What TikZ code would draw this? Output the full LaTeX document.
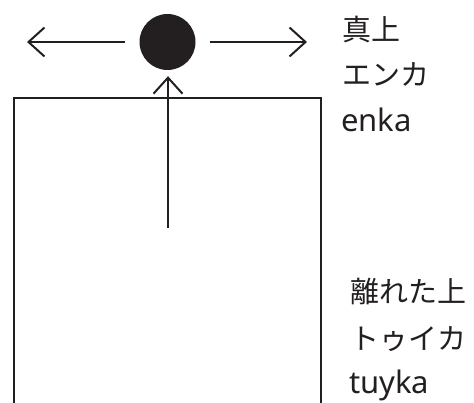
\documentclass[tikz,border=0pt]{standalone}
\usepackage{fontspec}
\setmainfont{Noto Sans}
\newfontfamily\cjk{Noto Sans CJK JP}
\usetikzlibrary{arrows.meta}
\definecolor{ink}{HTML}{231F20}
\tikzset{
  line/.style={draw=ink, line width=2pt},
  arr/.style={line, -{Straight Barb[length=16pt,width=29pt,line width=2pt]}},
  lbl/.style={anchor=base west, inner sep=0pt, text=ink, font=\fontsize{29}{29}\selectfont},
  lat/.style={lbl, font=\fontsize{31}{31}\selectfont},
}
\begin{document}
\begin{tikzpicture}[x=1pt,y=-1pt]
\useasboundingbox (0,0) rectangle (474,403);
% frame (open at the bottom)
\coordinate (fbl) at (14,403);
\coordinate (ftl) at (14,98);
\coordinate (ftr) at (321,98);
\coordinate (fbr) at (321,403);
\draw[line] (fbl) -- (ftl) -- (ftr) -- (fbr);
% dot
\node[circle, fill=ink, inner sep=0pt, minimum size=56pt] (dot) at (167.5,42) {};
\coordinate (lt) at (27,42);
\coordinate (rt) at (307,42);
\coordinate (vb) at (168,228);
\draw[arr, shorten <=14pt] (dot.west) -- (lt);
\draw[arr, shorten <=14pt] (dot.east) -- (rt);
\draw[arr, shorten >=6pt] (vb) -- (dot.south -| vb);
% labels
\node[lbl] (t1) at (342,41) {\cjk 真上};
\node[lbl] (t2) at (342,86) {\cjk エンカ};
\node[lat] (t3) at (341,132) {enka};
\node[lbl] (b1) at (350,303) {\cjk 離れた上};
\node[lbl] (b2) at (350,349) {\cjk トゥイカ};
\node[lat] (b3) at (349,393) {tuyka};
\end{tikzpicture}
\end{document}
